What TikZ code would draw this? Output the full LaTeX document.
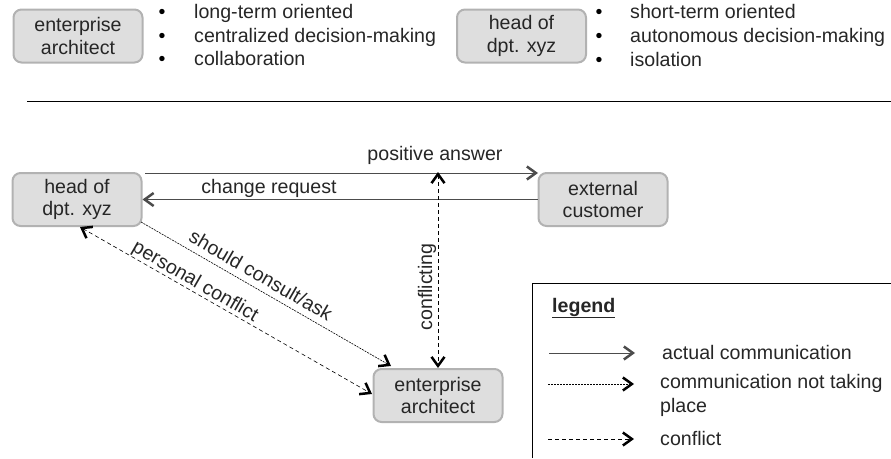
\documentclass[tikz,border=0pt]{standalone}
\usepackage{fontspec}
\setmainfont{Liberation Sans}
\usetikzlibrary{arrows.meta}
\tikzset{
  barb/.tip={Straight Barb[length=9pt,width=13pt,line width=2.5pt]},
  actor/.style={draw=black!30,line width=2pt,fill=black!13,rounded corners=8pt,minimum width=129pt,minimum height=53pt,inner sep=0pt,align=center,font=\fontsize{19.6}{22.5}\selectfont,text=black!85},
  lbl/.style={inner sep=0pt,font=\fontsize{19.6}{23}\selectfont,text=black!85},
  lst/.style={lbl,anchor=west},
  lstb/.style={lbl,anchor=base west},
  blt/.style={inner sep=0pt,anchor=base,font=\fontsize{19.6}{23}\selectfont,text=black},
  tip/.style={-barb},
  actual/.style={tip,line width=1pt,draw=black!70},
  notplace/.style={tip,line width=.6pt,dash pattern=on 2pt off 1pt},
  confl/.style={tip,line width=.6pt,dash pattern=on 4pt off 3pt},
  conflboth/.style={barb-barb,line width=.6pt,dash pattern=on 4pt off 3pt},
}
\begin{document}
\begin{tikzpicture}[x=1pt,y=-1pt]
\useasboundingbox (0,0) rectangle (891,458);
\node[actor] (ea1) at (78,36) {enterprise\\architect};
\node[actor] (hd1) at (521.5,36) {head of\\dpt. xyz};
\foreach \n/\y/\t in {a/18.5/long-term oriented,b/42/centralized decision-making,c/65.5/collaboration}{
  \node[blt] (b\n) at (162,\y) {•};
  \node[lstb] (t\n) at (194,\y) {\t};
}
\foreach \n/\y/\t in {d/18.5/short-term oriented,e/42/autonomous decision-making,f/66.5/isolation}{
  \node[blt] (b\n) at (599,\y) {•};
  \node[lstb] (t\n) at (630,\y) {\t};
}
\coordinate (ruleL) at (27,101);
\coordinate (ruleR) at (891,101);
\draw[line width=.9pt] (ruleL) -- (ruleR);
\node[actor] (hd) at (77,199.5) {head of\\dpt. xyz};
\node[actor] (ext) at (603,199.5) {external\\customer};
\node[actor] (ea) at (438,395.5) {enterprise\\architect};
\coordinate (hdR) at (145,173);
\coordinate (extL) at (538,173);
\draw[actual] (hdR) -- (extL);
\draw[actual] (ext.west) -- (hd.east);
\coordinate (cTop) at (438,172);
\draw[conflboth] (cTop) -- (ea.north);
\coordinate (sS) at (141,222);
\coordinate (sE) at (391,366);
\draw[notplace] (sS) -- (sE);
\coordinate (pS) at (80,227);
\coordinate (pE) at (372,394);
\draw[conflboth] (pS) -- (pE);
\node[lbl] (lp) at (435,155) {positive answer};
\node[lbl] (lc) at (269,188) {change request};
\node[lbl,rotate=90] (lf) at (427,287) {conflicting};
\node[lbl,rotate=-30] (ls) at (261,275) {should consult/ask};
\node[lbl,rotate=-30] (lpc) at (195,282) {personal conflict};
% legend
\coordinate (lgA) at (532,458);
\coordinate (lgB) at (532,283);
\coordinate (lgC) at (891,283);
\draw[line width=.9pt] (lgA) -- (lgB) -- (lgC);
\node[lst,font=\fontsize{19.6}{20}\selectfont\bfseries] (lh) at (552,308) {\underline{legend}};
\coordinate (a1) at (549,353); \coordinate (a2) at (635,353);
\draw[actual] (a1) -- (a2);
\coordinate (b1) at (548,384); \coordinate (b2) at (634,384);
\draw[notplace] (b1) -- (b2);
\coordinate (c1) at (548,439); \coordinate (c2) at (634,439);
\draw[confl] (c1) -- (c2);
\node[lst] (l1) at (662,352) {actual communication};
\node[lst] (l2) at (660,383) {communication not taking};
\node[lst] (l3) at (660,407) {place};
\node[lst] (l4) at (660,438) {conflict};
\end{tikzpicture}
\end{document}
